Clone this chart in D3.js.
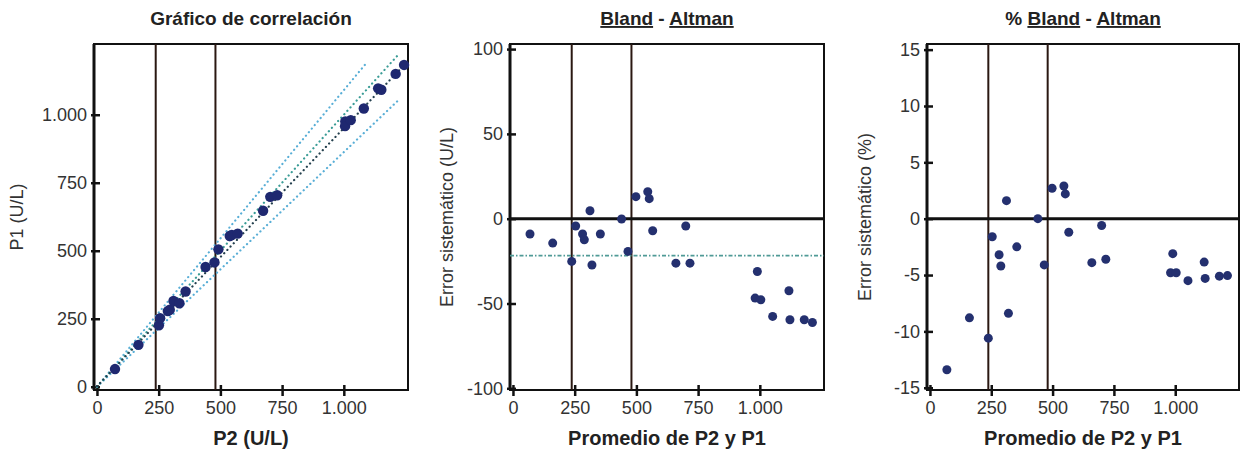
<!DOCTYPE html>
<html>
<head>
<meta charset="utf-8">
<script src="https://cdn.jsdelivr.net/npm/d3@7"></script>
<style>
  body { margin: 0; background: #fff; }
  svg { display: block; font-family: "Liberation Sans", Arial, sans-serif; }
</style>
</head>
<body>
<svg id="chart" width="1240" height="452"></svg>
<script>
// datos (26 muestras)
const promedio = [69, 161, 238, 254, 282, 289, 312, 320, 354, 440, 466, 498, 546, 552, 566, 660, 700, 717, 990, 981, 1004, 1052, 1118, 1122, 1180, 1213];
const errorAbs = [-9, -14.4, -25.2, -4.3, -9, -12.4, 4.7, -27.3, -9, -0.2, -19.3, 13, 15.9, 11.8, -7.1, -26.2, -4.3, -26.2, -31.1, -46.8, -47.8, -57.6, -42.5, -59.6, -59.6, -61.2];
const errorPct = [-13.4, -8.8, -10.6, -1.6, -3.2, -4.2, 1.6, -8.4, -2.5, 0, -4.1, 2.7, 2.9, 2.2, -1.2, -3.9, -0.6, -3.6, -3.1, -4.8, -4.8, -5.5, -3.85, -5.3, -5.1, -5.05];
const p2 = [73, 168, 251, 256, 287, 295, 310, 334, 359, 440, 476, 492, 538, 546, 570, 673, 702, 730, 1006, 1005, 1028, 1081, 1139, 1152, 1210, 1244];
const p1 = [65, 154, 226, 252, 278, 283, 315, 307, 350, 440, 457, 505, 554, 558, 563, 647, 698, 704, 975, 958, 980, 1023, 1097, 1092, 1150, 1183];

// lineas del grafico de correlacion (extremos en U/L)
const lineaIdentidad = [[0, 0], [1225, 1225]];
const lineaRegresion = [[0, 2], [1245, 1183]];
const bandaSuperior = [[0, 0], [1096, 1195]];
const bandaInferior = [[0, 0], [1216, 1049]];

const limites = [238, 480];      // lineas verticales
const sesgoMedio = -21.8;        // linea del sesgo medio (U/L)

const ticksX = [0, 250, 500, 750, 1000];
const ticksCorr = [0, 250, 500, 750, 1000];
const ticksAbs = [-100, -50, 0, 50, 100];
const ticksPct = [-15, -10, -5, 0, 5, 10, 15];

const svg = d3.select("#chart");
const loc = d3.formatLocale({ decimal: ",", thousands: ".", grouping: [3], currency: ["", ""], minus: "-" });
const fmt = loc.format(",d");

const TOP = 44, BOTTOM = 390;
const INK = "#111";

function panel(opts) {
  let g = svg.append("g");
  let x = d3.scaleLinear().domain([-12, 1260]).range([opts.left, opts.right]);
  let y = d3.scaleLinear().domain(opts.yDomain).range([BOTTOM, TOP]);

  // ejes
  let ax = g.append("g")
    .attr("transform", "translate(0," + (BOTTOM - 5) + ")")
    .call(d3.axisBottom(x).tickValues(ticksX).tickSize(11).tickPadding(5).tickFormat(fmt));
  let ay = g.append("g")
    .attr("transform", "translate(" + (opts.left + 6) + ",0)")
    .call(d3.axisLeft(y).tickValues(opts.yTicks).tickSize(9).tickPadding(4).tickFormat(fmt));
  [ax, ay].forEach(function (a) {
    a.select(".domain").remove();
    a.selectAll("line").attr("stroke", INK).attr("stroke-width", 2.5);
    a.selectAll("text").attr("font-size", 18).attr("fill", "#333")
      .attr("font-family", "'Liberation Sans', Arial, sans-serif");
  });

  // marco
  g.append("rect")
    .attr("x", opts.left).attr("y", TOP)
    .attr("width", opts.right - opts.left).attr("height", BOTTOM - TOP)
    .attr("fill", "none").attr("stroke", INK).attr("stroke-width", 2);
  g.append("line")
    .attr("x1", opts.left).attr("x2", opts.left).attr("y1", TOP).attr("y2", BOTTOM)
    .attr("stroke", INK).attr("stroke-width", 3);

  // limites verticales
  g.selectAll(".lim").data(limites).enter().append("line")
    .attr("x1", d => x(d)).attr("x2", d => x(d))
    .attr("y1", TOP).attr("y2", BOTTOM)
    .attr("stroke", "#2a1812").attr("stroke-width", 2);

  // titulo
  let cx = (opts.left + opts.right) / 2;
  let t = g.append("text").attr("x", cx).attr("y", 25)
    .attr("text-anchor", "middle").attr("font-size", 19).attr("font-weight", "bold").attr("fill", "#222");
  opts.title.forEach(function (p) {
    t.append("tspan").text(p[0]).style("text-decoration", p[1] ? "underline" : "none");
  });

  g.append("text").attr("x", cx).attr("y", 445)
    .attr("text-anchor", "middle").attr("font-size", 20).attr("font-weight", "bold").attr("fill", "#222")
    .text(opts.xTitle);
  g.append("text")
    .attr("transform", "translate(" + opts.yTitleX + "," + ((TOP + BOTTOM) / 2) + ") rotate(-90)")
    .attr("text-anchor", "middle").attr("font-size", 18).attr("fill", "#333")
    .text(opts.yTitle);

  return { g: g, x: x, y: y };
}

// linea punteada (puntos redondos)
function dotted(p, pts, color, width) {
  p.g.append("path")
    .attr("d", d3.line().x(d => p.x(d[0])).y(d => p.y(d[1]))(pts))
    .attr("fill", "none").attr("stroke", color).attr("stroke-width", width)
    .attr("stroke-dasharray", "0.1,4.5").attr("stroke-linecap", "round");
}

// --- Grafico de correlacion
let a = panel({
  left: 94, right: 408, yDomain: [-12, 1260], yTicks: ticksCorr,
  title: [["Gráfico de correlación", false]],
  xTitle: "P2 (U/L)", yTitle: "P1 (U/L)", yTitleX: 23
});
dotted(a, bandaSuperior, "#58aed6", 2.2);
dotted(a, bandaInferior, "#58aed6", 2.2);
dotted(a, lineaIdentidad, "#3a9c96", 2.2);
dotted(a, lineaRegresion, "#24404e", 2.2);
a.g.selectAll(".pt").data(d3.range(p2.length)).enter().append("circle")
  .attr("cx", i => a.x(p2[i])).attr("cy", i => a.y(p1[i])).attr("r", 5.2)
  .attr("fill", "#1f2870");

// --- Bland - Altman
let b = panel({
  left: 510, right: 824, yDomain: [-101, 103], yTicks: ticksAbs,
  title: [["Bland", true], [" - ", false], ["Altman", true]],
  xTitle: "Promedio de P2 y P1", yTitle: "Error sistemático (U/L)", yTitleX: 453
});
b.g.append("line")
  .attr("x1", b.x.range()[0]).attr("x2", b.x.range()[1])
  .attr("y1", b.y(sesgoMedio)).attr("y2", b.y(sesgoMedio))
  .attr("stroke", "#4f9a96").attr("stroke-width", 1.8).attr("stroke-dasharray", "4,2,1.5,2");
b.g.append("line")
  .attr("x1", b.x.range()[0]).attr("x2", b.x.range()[1])
  .attr("y1", b.y(0)).attr("y2", b.y(0))
  .attr("stroke", INK).attr("stroke-width", 3);
b.g.selectAll(".pt").data(d3.range(promedio.length)).enter().append("circle")
  .attr("cx", i => b.x(promedio[i])).attr("cy", i => b.y(errorAbs[i])).attr("r", 4.5)
  .attr("fill", "#24306f");

// --- % Bland - Altman
let c = panel({
  left: 927, right: 1239, yDomain: [-15.2, 15.5], yTicks: ticksPct,
  title: [["% ", false], ["Bland", true], [" - ", false], ["Altman", true]],
  xTitle: "Promedio de P2 y P1", yTitle: "Error sistemático (%)", yTitleX: 871
});
c.g.append("line")
  .attr("x1", c.x.range()[0]).attr("x2", c.x.range()[1])
  .attr("y1", c.y(0)).attr("y2", c.y(0))
  .attr("stroke", INK).attr("stroke-width", 3);
c.g.selectAll(".pt").data(d3.range(promedio.length)).enter().append("circle")
  .attr("cx", i => c.x(promedio[i])).attr("cy", i => c.y(errorPct[i])).attr("r", 4.5)
  .attr("fill", "#24306f");
</script>
</body>
</html>
